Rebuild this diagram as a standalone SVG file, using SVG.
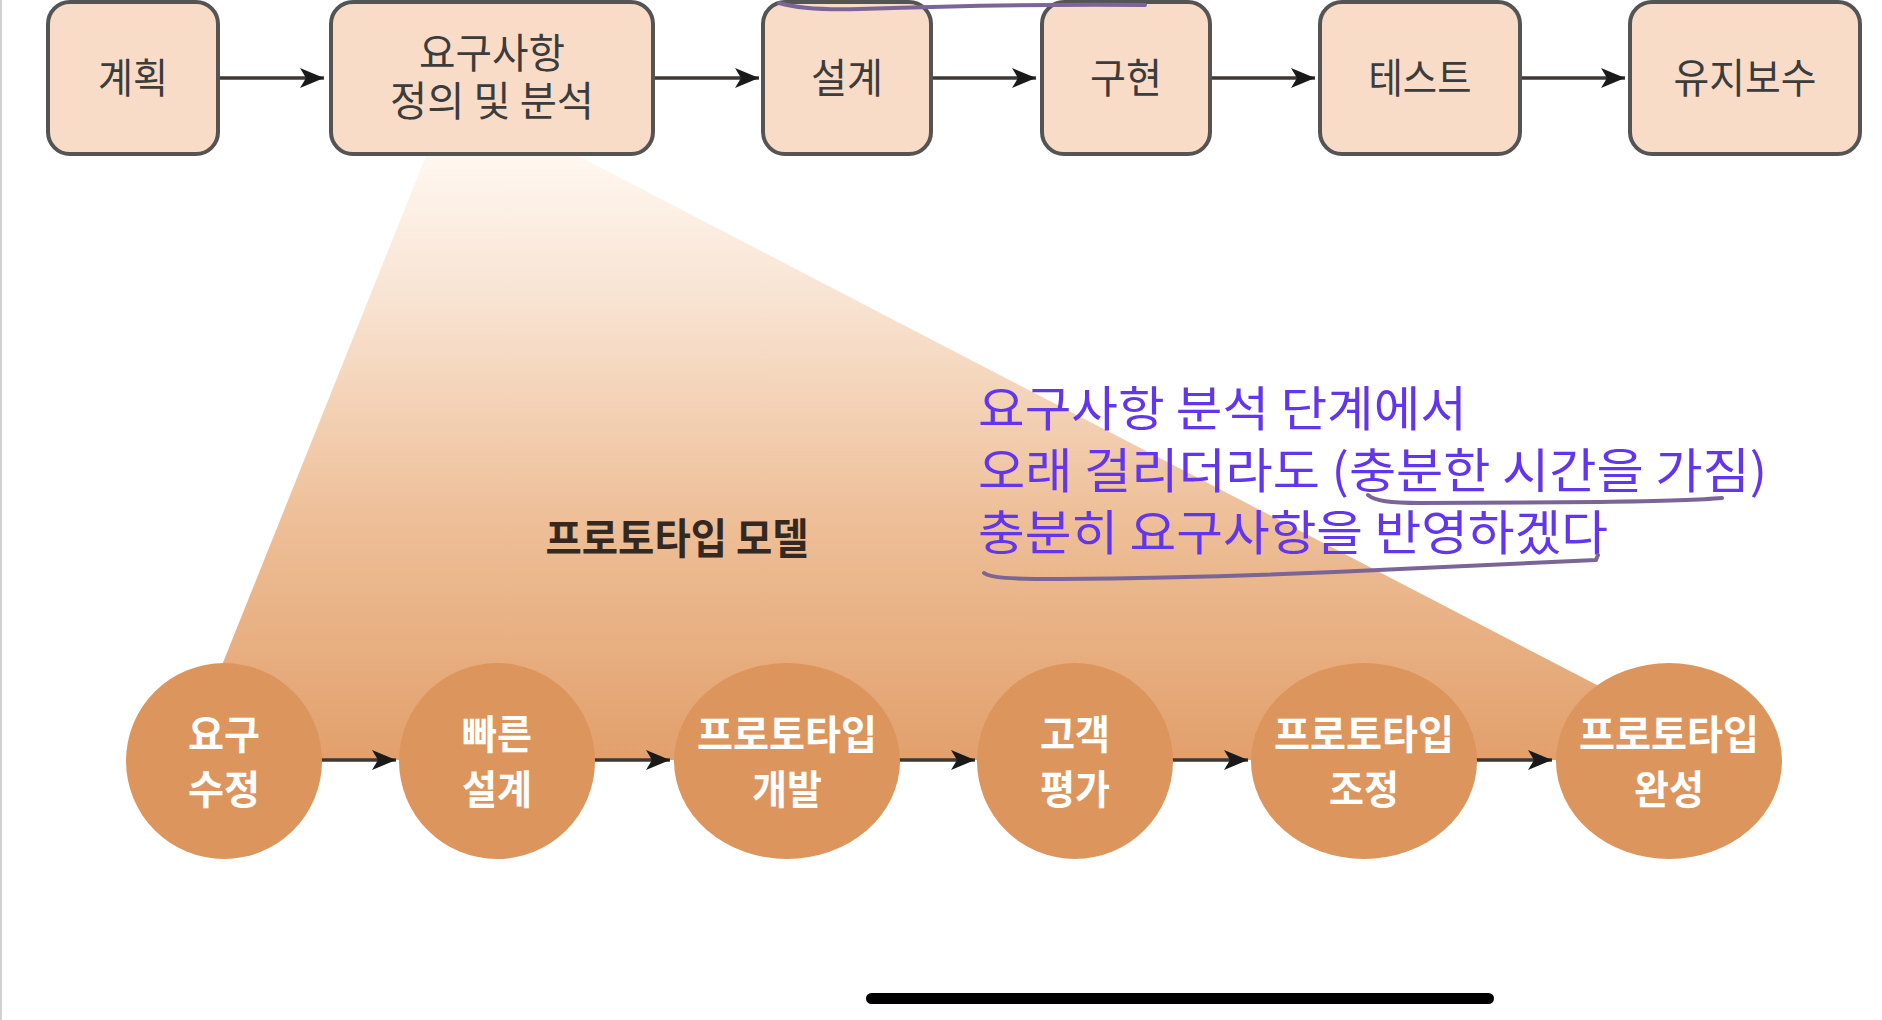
<svg xmlns="http://www.w3.org/2000/svg" width="1882" height="1020" viewBox="0 0 1882 1020">
  <defs>
    <style>
      .box { fill: #f8dcc8; stroke: #545454; stroke-width: 4; }
      .boxtxt { font-family: "Noto Sans CJK KR", "Noto Sans", sans-serif; font-size: 41px; fill: #3c3c3c; text-anchor: middle; }
      .circ { fill: #dd955e; }
      .circtxt { font-family: "Noto Sans CJK KR", "Noto Sans", sans-serif; font-size: 40px; font-weight: 700; fill: #ffffff; text-anchor: middle; }
      .conn { stroke: #3d3835; stroke-width: 3.5; fill: none; }
      .note { font-family: "Noto Sans CJK KR", "Noto Sans", sans-serif; font-size: 48px; fill: #6236ee; }
      .pen { stroke: #7b6596; stroke-width: 4; fill: none; stroke-linecap: round; stroke-linejoin: round; }
    </style>
    <marker id="arr" viewBox="0 0 24 20" refX="24" refY="10" markerWidth="24" markerHeight="20" markerUnits="userSpaceOnUse" orient="auto">
      <path d="M0,0 L24,10 L0,20 L6,10 Z" fill="#1a1a1a"/>
    </marker>
    <linearGradient id="fan" gradientUnits="userSpaceOnUse" x1="0" y1="156" x2="0" y2="760">
      <stop offset="0" stop-color="#fff7f0"/>
      <stop offset="0.25" stop-color="#f8e2d0"/>
      <stop offset="0.6" stop-color="#eebf98"/>
      <stop offset="1" stop-color="#e2a06c"/>
    </linearGradient>
  </defs>

  <rect x="0" y="0" width="1882" height="1020" fill="#ffffff"/>
  <line x1="1" y1="0" x2="1" y2="1020" stroke="#d2d2d2" stroke-width="2"/>

  <!-- fan -->
  <polygon id="fan-shape" points="426,156 578,156 1620,697 1620,760 184,760" fill="url(#fan)"/>

  <!-- top nodes -->
  <g id="n-plan">
    <rect class="box" x="48" y="2" width="170" height="152" rx="22"/>
    <text class="boxtxt" x="133" y="93" textLength="70" lengthAdjust="spacingAndGlyphs">계획</text>
  </g>
  <g id="n-req">
    <rect class="box" x="331" y="2" width="322" height="152" rx="22"/>
    <text class="boxtxt" x="492" y="68" textLength="146" lengthAdjust="spacingAndGlyphs">요구사항</text>
    <text class="boxtxt" x="492" y="116" textLength="204" lengthAdjust="spacingAndGlyphs">정의 및 분석</text>
  </g>
  <g id="n-design">
    <rect class="box" x="763" y="2" width="168" height="152" rx="22"/>
    <text class="boxtxt" x="847" y="93" textLength="72" lengthAdjust="spacingAndGlyphs">설계</text>
  </g>
  <g id="n-impl">
    <rect class="box" x="1042" y="2" width="168" height="152" rx="22"/>
    <text class="boxtxt" x="1126" y="93" textLength="72" lengthAdjust="spacingAndGlyphs">구현</text>
  </g>
  <g id="n-test">
    <rect class="box" x="1320" y="2" width="200" height="152" rx="22"/>
    <text class="boxtxt" x="1420" y="93" textLength="103" lengthAdjust="spacingAndGlyphs">테스트</text>
  </g>
  <g id="n-maint">
    <rect class="box" x="1630" y="2" width="230" height="152" rx="22"/>
    <text class="boxtxt" x="1745" y="93" textLength="143" lengthAdjust="spacingAndGlyphs">유지보수</text>
  </g>

  <!-- label -->
  <text id="label-model" x="677" y="554" font-family="Noto Sans CJK KR, Noto Sans, sans-serif" font-size="42" font-weight="700" fill="#352820" text-anchor="middle" textLength="263" lengthAdjust="spacingAndGlyphs">프로토타입 모델</text>

  <!-- connectors -->
  <g id="connectors">
    <line class="conn" x1="220" y1="78" x2="324" y2="78" marker-end="url(#arr)"/>
    <line class="conn" x1="655" y1="78" x2="759" y2="78" marker-end="url(#arr)"/>
    <line class="conn" x1="933" y1="78" x2="1036" y2="78" marker-end="url(#arr)"/>
    <line class="conn" x1="1212" y1="78" x2="1315" y2="78" marker-end="url(#arr)"/>
    <line class="conn" x1="1522" y1="78" x2="1625" y2="78" marker-end="url(#arr)"/>
    <line class="conn" x1="318" y1="760" x2="396" y2="760" marker-end="url(#arr)"/>
    <line class="conn" x1="592" y1="760" x2="670" y2="760" marker-end="url(#arr)"/>
    <line class="conn" x1="896" y1="760" x2="975" y2="760" marker-end="url(#arr)"/>
    <line class="conn" x1="1170" y1="760" x2="1248" y2="760" marker-end="url(#arr)"/>
    <line class="conn" x1="1473" y1="760" x2="1552" y2="760" marker-end="url(#arr)"/>
  </g>

  <!-- circle nodes -->
  <g id="c-req-mod">
    <ellipse class="circ" cx="224" cy="761" rx="98" ry="98"/>
    <text class="circtxt" x="224" y="749" textLength="72" lengthAdjust="spacingAndGlyphs">요구</text>
    <text class="circtxt" x="224" y="804" textLength="72" lengthAdjust="spacingAndGlyphs">수정</text>
  </g>
  <g id="c-fast-design">
    <ellipse class="circ" cx="497" cy="761" rx="98" ry="98"/>
    <text class="circtxt" x="497" y="749" textLength="70" lengthAdjust="spacingAndGlyphs">빠른</text>
    <text class="circtxt" x="497" y="804" textLength="70" lengthAdjust="spacingAndGlyphs">설계</text>
  </g>
  <g id="c-proto-dev">
    <ellipse class="circ" cx="787" cy="761" rx="113" ry="98"/>
    <text class="circtxt" x="787" y="749" textLength="180" lengthAdjust="spacingAndGlyphs">프로토타입</text>
    <text class="circtxt" x="787" y="804" textLength="70" lengthAdjust="spacingAndGlyphs">개발</text>
  </g>
  <g id="c-eval">
    <ellipse class="circ" cx="1075" cy="761" rx="98" ry="98"/>
    <text class="circtxt" x="1075" y="749" textLength="70" lengthAdjust="spacingAndGlyphs">고객</text>
    <text class="circtxt" x="1075" y="804" textLength="70" lengthAdjust="spacingAndGlyphs">평가</text>
  </g>
  <g id="c-proto-adj">
    <ellipse class="circ" cx="1364" cy="761" rx="113" ry="98"/>
    <text class="circtxt" x="1364" y="749" textLength="180" lengthAdjust="spacingAndGlyphs">프로토타입</text>
    <text class="circtxt" x="1364" y="804" textLength="70" lengthAdjust="spacingAndGlyphs">조정</text>
  </g>
  <g id="c-proto-done">
    <ellipse class="circ" cx="1669" cy="761" rx="113" ry="98"/>
    <text class="circtxt" x="1669" y="749" textLength="180" lengthAdjust="spacingAndGlyphs">프로토타입</text>
    <text class="circtxt" x="1669" y="804" textLength="70" lengthAdjust="spacingAndGlyphs">완성</text>
  </g>

  <!-- handwritten annotation -->
  <g id="annotation">
    <text class="note" x="978" y="426" textLength="489" lengthAdjust="spacingAndGlyphs">요구사항 분석 단계에서</text>
    <text class="note" x="978" y="488" textLength="789" lengthAdjust="spacingAndGlyphs">오래 걸리더라도 (충분한 시간을 가짐)</text>
    <text class="note" x="978" y="550" textLength="630" lengthAdjust="spacingAndGlyphs">충분히 요구사항을 반영하겠다</text>
    <path class="pen" d="M779,3 C800,9 830,10 860,9 C950,6 1050,4 1145,5"/>
    <path class="pen" d="M1368,495 C1375,501 1390,503 1420,503 L1600,502 C1660,501 1700,500 1722,498"/>
    <path class="pen" d="M984,573 C990,578 1010,579 1060,579 C1200,578 1300,574 1400,569 C1500,565 1560,562 1596,560 L1598,555"/>
  </g>

  <!-- home indicator -->
  <rect x="866" y="993" width="628" height="11" rx="5.5" fill="#000000"/>
</svg>
